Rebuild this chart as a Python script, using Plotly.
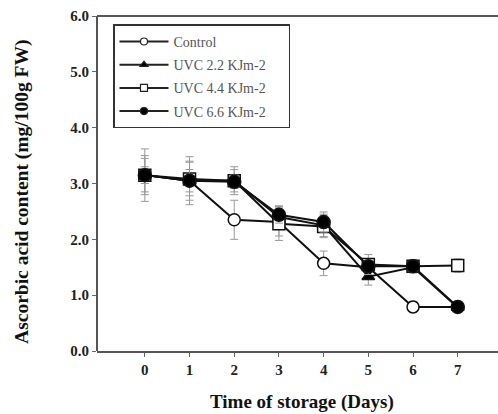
import plotly.graph_objects as go

days = [0, 1, 2, 3, 4, 5, 6, 7]
control = [3.15, 3.05, 2.35, 2.31, 1.57, 1.50, 0.79, 0.79]
uvc22 = [3.15, 3.05, 3.05, 2.40, 2.25, 1.33, 1.50, 0.78]
uvc44 = [3.15, 3.08, 3.05, 2.28, 2.23, 1.55, 1.52, 1.53]
uvc66 = [3.15, 3.05, 3.03, 2.44, 2.31, 1.52, 1.52, 0.79]
err_control = [0.47, 0.43, 0.35, 0.25, 0.22, 0.15, 0.10, 0.08]
err_22 = [0.30, 0.35, 0.20, 0.20, 0.20, 0.15, 0.10, 0.08]
err_44 = [0.35, 0.30, 0.25, 0.30, 0.20, 0.18, 0.12, 0.12]
err_66 = [0.15, 0.20, 0.12, 0.15, 0.18, 0.10, 0.10, 0.05]

names = ["Control", "UVC 2.2 KJm-2", "UVC 4.4 KJm-2", "UVC 6.6 KJm-2"]
series = [control, uvc22, uvc44, uvc66]
errs = [err_control, err_22, err_44, err_66]
symbols = ["circle", "triangle-up", "square", "circle"]
fills = ["white", "black", "white", "black"]
sizes = [12, 11, 12, 13]
legend_sizes = [7, 7, 7, 7]

fig = go.Figure()
for i in range(4):
    fig.add_trace(go.Scatter(
        x=days, y=series[i], name=names[i], mode="lines+markers",
        showlegend=False,
        line=dict(color="#111111", width=2),
        marker=dict(symbol=symbols[i], size=sizes[i], color=fills[i],
                    line=dict(color="#111111", width=1.5)),
        error_y=dict(type="data", array=errs[i], color="#999999",
                     thickness=1, width=4),
    ))
for i in range(4):
    fig.add_trace(go.Scatter(
        x=[None], y=[None], name=names[i] + "&nbsp;" * 5, mode="lines+markers",
        legendgroup=f"g{i}",
        line=dict(color="#222222", width=2),
        marker=dict(symbol=symbols[i], size=legend_sizes[i], color=fills[i],
                    line=dict(color="#222222", width=1.2)),
    ))

# plot area is 415 px wide; the window (498 px) cuts off its right end, as in the reference
W = 512
font_serif = "Liberation Serif, Times New Roman, serif"
fig.add_shape(type="line", xref="paper", yref="paper", x0=0, x1=1, y0=1, y1=1,
              line=dict(color="#555555", width=2))
fig.add_shape(type="line", xref="paper", yref="paper", x0=0, x1=0, y0=0, y1=1,
              line=dict(color="#555555", width=2))
fig.add_annotation(text="<b>Ascorbic acid content (mg/100g FW)</b>",
                   xref="paper", yref="paper", x=(22 - 97) / (W - 97), y=0.475,
                   xanchor="center", yanchor="middle", textangle=-90,
                   showarrow=False,
                   font=dict(family=font_serif, size=19.5, color="#111111"))
fig.add_annotation(text="<b>Time of storage (Days)</b>",
                   xref="paper", yref="paper", x=(302 - 97) / (W - 97), y=-0.153,
                   xanchor="center", yanchor="middle",
                   showarrow=False,
                   font=dict(family=font_serif, size=19, color="#111111"))
fig.update_layout(
    width=W, height=414,
    margin=dict(l=97, r=0, t=16, b=63),
    paper_bgcolor="white", plot_bgcolor="white",
    showlegend=True,
    legend=dict(x=(113 - 97) / (W - 97), y=0.975, xanchor="left", yanchor="top",
                bordercolor="#333333", borderwidth=1.5, bgcolor="white",
                font=dict(family=font_serif, size=14, color="#555555"),
                tracegroupgap=2, itemwidth=49),
    xaxis=dict(range=[-1.07, -1.07 + (W - 97) / 44.7], tickvals=days,
               ticks="outside", ticklen=4,
               tickcolor="#666666", showline=True, linecolor="#555555",
               linewidth=2, showgrid=False, zeroline=False, mirror=False,
               automargin=False,
               tickfont=dict(family=font_serif, size=15, color="#222222", weight="bold")),
    yaxis=dict(range=[0, 6.0], tickvals=[0, 1, 2, 3, 4, 5, 6],
               ticktext=["0.0", "1.0", "2.0", "3.0", "4.0", "5.0", "6.0"],
               ticks="outside", ticklen=4, tickcolor="#666666",
               showline=False, showgrid=False, zeroline=False, mirror=False,
               automargin=False,
               tickfont=dict(family=font_serif, size=15, color="#222222", weight="bold")),
)

fig.write_html("out.html")
